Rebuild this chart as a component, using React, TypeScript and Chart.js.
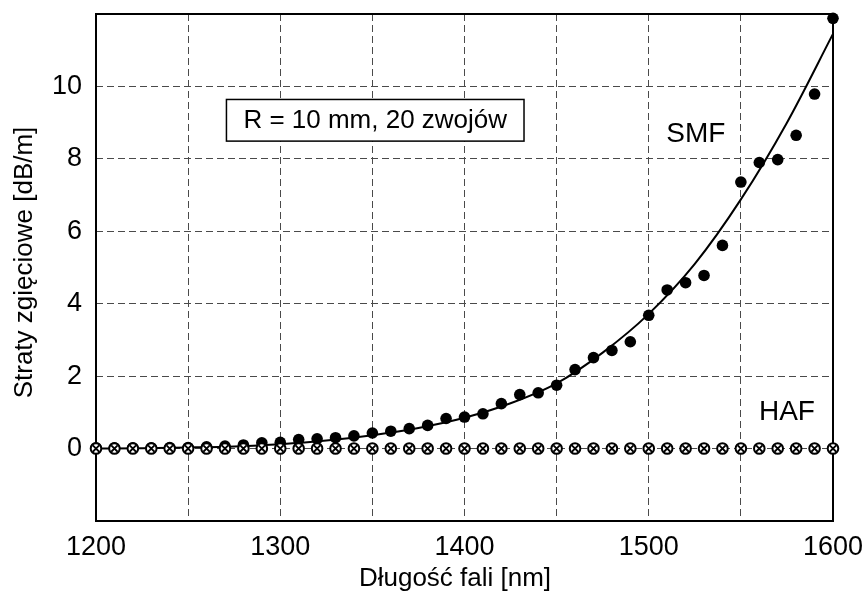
import React, { useEffect, useRef } from "react";
import { Chart, registerables } from "chart.js";

Chart.register(...registerables);

const wavelengths = [
  1200, 1210, 1220, 1230, 1240, 1250, 1260, 1270, 1280, 1290, 1300, 1310, 1320, 1330,
  1340, 1350, 1360, 1370, 1380, 1390, 1400, 1410, 1420, 1430, 1440, 1450, 1460, 1470,
  1480, 1490, 1500, 1510, 1520, 1530, 1540, 1550, 1560, 1570, 1580, 1590, 1600,
];

const smfLoss = [
  0.02, 0.02, 0.02, 0.02, 0.03, 0.03, 0.05, 0.07, 0.1, 0.16, 0.17, 0.25, 0.27, 0.3,
  0.35, 0.43, 0.48, 0.55, 0.64, 0.83, 0.87, 0.96, 1.24, 1.49, 1.54, 1.75, 2.18, 2.51,
  2.71, 2.95, 3.68, 4.38, 4.58, 4.78, 5.61, 7.36, 7.9, 7.98, 8.65, 9.79, 11.88,
];

const hafLoss = wavelengths.map(() => 0);

const fitWavelengths = [
  1200, 1225, 1250, 1275, 1300, 1325, 1350, 1375, 1400, 1425, 1450, 1475, 1500, 1525,
  1550, 1575, 1600,
];
const fitLoss = [
  0.0, 0.01, 0.03, 0.06, 0.12, 0.22, 0.37, 0.57, 0.85, 1.25, 1.8, 2.65, 3.72, 5.1,
  6.88, 9.0, 11.45,
];

const yTickLabels = [0, 2, 4, 6, 8, 10];
const xTickLabels = [1200, 1300, 1400, 1500, 1600];

const FONT = "'Liberation Sans', Arial, Helvetica, sans-serif";

const annotationPlugin = {
  id: "annotations",
  beforeDatasetsDraw(chart: any) {
    const { ctx, chartArea, scales } = chart;
    const xs = scales.x;
    const ys = scales.y;
    ctx.save();
    // frame
    ctx.strokeStyle = "#000";
    ctx.lineWidth = 2;
    ctx.setLineDash([]);
    ctx.strokeRect(chartArea.left, chartArea.top, chartArea.right - chartArea.left, chartArea.bottom - chartArea.top);

    // parameter box
    const bx1 = xs.getPixelForValue(1270.8);
    const bx2 = xs.getPixelForValue(1432.3);
    const by1 = ys.getPixelForValue(9.64);
    const by2 = ys.getPixelForValue(8.49);
    ctx.fillStyle = "#fff";
    ctx.fillRect(bx1, by1, bx2 - bx1, by2 - by1);
    ctx.lineWidth = 1.5;
    ctx.strokeRect(bx1, by1, bx2 - bx1, by2 - by1);
    ctx.fillStyle = "#000";
    ctx.textAlign = "center";
    ctx.textBaseline = "middle";
    ctx.font = `26px ${FONT}`;
    ctx.fillText("R = 10 mm, 20 zwojów", (bx1 + bx2) / 2, (by1 + by2) / 2 + 1);

    // series labels
    ctx.font = `28px ${FONT}`;
    ctx.fillText("SMF", xs.getPixelForValue(1525.6), ys.getPixelForValue(8.67));
    ctx.fillText("HAF", xs.getPixelForValue(1575), ys.getPixelForValue(1.0));

    // axis titles
    ctx.font = `26px ${FONT}`;
    ctx.fillText("Długość fali [nm]", 455, 579);
    ctx.translate(25, 262.5);
    ctx.rotate(-Math.PI / 2);
    ctx.fillText("Straty zgięciowe [dB/m]", 0, 0);
    ctx.restore();
  },
};

export default function App() {
  const canvasRef = useRef<HTMLCanvasElement | null>(null);

  useEffect(() => {
    if (!canvasRef.current) return;
    const toXY = (xsArr: number[], ysArr: number[]) => xsArr.map((x, i) => ({ x, y: ysArr[i] }));

    const chart = new Chart(canvasRef.current, {
      type: "line",
      data: {
        datasets: [
          {
            label: "HAF cross",
            data: toXY(wavelengths, hafLoss),
            showLine: false,
            pointStyle: "crossRot",
            pointRadius: 4.5,
            pointBorderWidth: 1.8,
            pointBorderColor: "#000",
            pointBackgroundColor: "#000",
            clip: false,
          } as any,
          {
            label: "HAF",
            data: toXY(wavelengths, hafLoss),
            showLine: false,
            pointStyle: "circle",
            pointRadius: 5.3,
            pointBorderWidth: 2,
            pointBorderColor: "#000",
            pointBackgroundColor: "#fff",
            clip: false,
          } as any,
          {
            label: "SMF",
            data: toXY(wavelengths, smfLoss),
            showLine: false,
            pointStyle: "circle",
            pointRadius: 5.8,
            pointBorderWidth: 0,
            pointBorderColor: "#000",
            pointBackgroundColor: "#000",
            clip: false,
          } as any,
          {
            label: "fit",
            data: toXY(fitWavelengths, fitLoss),
            borderColor: "#000",
            borderWidth: 2,
            pointRadius: 0,
            cubicInterpolationMode: "monotone",
            fill: false,
          } as any,
        ],
      },
      options: {
        animation: false,
        responsive: true,
        maintainAspectRatio: false,
        layout: { padding: { top: 14, right: 35, left: 0, bottom: 0 } },
        plugins: { legend: { display: false }, tooltip: { enabled: false } },
        scales: {
          x: {
            type: "linear",
            min: 1200,
            max: 1600,
            ticks: {
              stepSize: 50,
              color: "#000",
              padding: 10,
              maxRotation: 0,
              autoSkip: false,
              font: { family: FONT, size: 27 },
              callback: (v: any) => (xTickLabels.includes(Number(v)) ? String(v) : ""),
            },
            grid: {
              drawTicks: false,
              lineWidth: 1,
              color: (c: any) =>
                c.tick && (c.tick.value === 1200 || c.tick.value === 1600) ? "rgba(0,0,0,0)" : "#4a4a4a",
            },
            border: { display: false, dash: [7, 4] },
            afterFit: (s: any) => {
              s.height = 78;
              s.paddingLeft = 0;
              s.paddingRight = 0;
            },
          },
          y: {
            type: "linear",
            min: -2,
            max: 12,
            ticks: {
              stepSize: 2,
              color: "#000",
              padding: 14,
              font: { family: FONT, size: 27 },
              callback: (v: any) => (yTickLabels.includes(Number(v)) ? String(v) : ""),
            },
            grid: {
              drawTicks: false,
              lineWidth: 1,
              color: (c: any) =>
                c.tick && (c.tick.value === -2 || c.tick.value === 12) ? "rgba(0,0,0,0)" : "#4a4a4a",
            },
            border: { display: false, dash: [7, 4] },
            afterFit: (s: any) => {
              s.width = 96;
              s.paddingTop = 0;
              s.paddingBottom = 0;
            },
          },
        },
      } as any,
      plugins: [annotationPlugin],
    });
    return () => chart.destroy();
  }, []);

  return (
    <div style={{ position: "fixed", left: 0, top: 0, width: 868, height: 599, background: "#fff" }}>
      <canvas ref={canvasRef} />
    </div>
  );
}
